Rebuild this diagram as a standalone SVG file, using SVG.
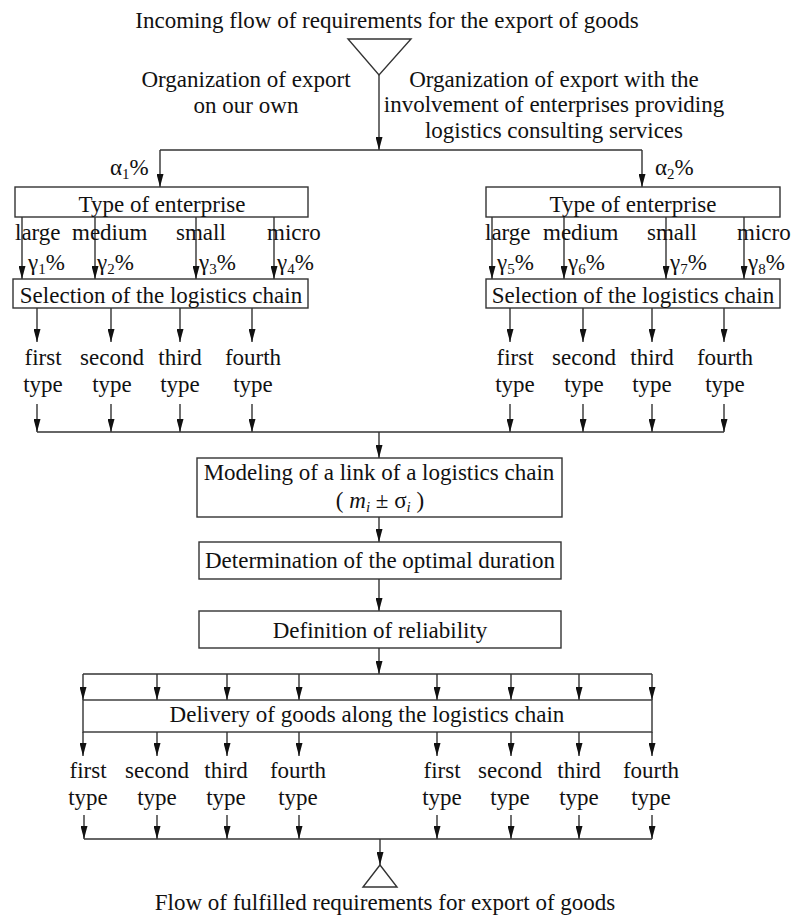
<svg xmlns="http://www.w3.org/2000/svg" width="803" height="918" viewBox="0 0 803 918">
<style>
text{font-family:"Liberation Serif","Times New Roman",serif;font-size:23px;fill:#111}
.m{text-anchor:middle}
.box{fill:#fff;stroke:#333;stroke-width:1.4}
.ln{fill:none;stroke:#333;stroke-width:1.4}
.ar{fill:none;stroke:#333;stroke-width:1.4;marker-end:url(#ah)}
.sub{font-size:15px}
.it{font-style:italic}
</style>
<defs>
<marker id="ah" viewBox="0 0 13 7" refX="13" refY="3.5" markerWidth="13" markerHeight="7" markerUnits="userSpaceOnUse" orient="auto">
<path d="M0,0 L13,3.5 L0,7 z" fill="#111"/>
</marker>
</defs>
<rect width="803" height="918" fill="#fff"/>

<g id="connectors">
<path class="ar" d="M379,75 V150"/>
<path class="ln" d="M160,150 H642"/>
<path class="ar" d="M160,150 V187"/>
<path class="ar" d="M642,150 V187"/>
<path class="ar" d="M22,217 V279"/>
<path class="ar" d="M95,217 V279"/>
<path class="ar" d="M196,217 V279"/>
<path class="ar" d="M274,217 V279"/>
<path class="ar" d="M492,217 V279"/>
<path class="ar" d="M564,217 V279"/>
<path class="ar" d="M666,217 V279"/>
<path class="ar" d="M744,217 V279"/>
<path class="ar" d="M37,308 V342"/>
<path class="ar" d="M111,308 V342"/>
<path class="ar" d="M180,308 V342"/>
<path class="ar" d="M252,308 V342"/>
<path class="ar" d="M510,308 V342"/>
<path class="ar" d="M583,308 V342"/>
<path class="ar" d="M652,308 V342"/>
<path class="ar" d="M724,308 V342"/>
<path class="ar" d="M37,404 V432"/>
<path class="ar" d="M111,404 V432"/>
<path class="ar" d="M180,404 V432"/>
<path class="ar" d="M252,404 V432"/>
<path class="ar" d="M510,404 V432"/>
<path class="ar" d="M583,404 V432"/>
<path class="ar" d="M652,404 V432"/>
<path class="ar" d="M724,404 V432"/>
<path class="ln" d="M37,432 H724"/>
<path class="ar" d="M379,432 V458"/>
<path class="ar" d="M379,517 V542"/>
<path class="ar" d="M379,579 V611"/>
<path class="ar" d="M379,648 V674"/>
<path class="ln" d="M83,674 H652"/>
<path class="ar" d="M83,674 V700"/>
<path class="ar" d="M157,674 V700"/>
<path class="ar" d="M227,674 V700"/>
<path class="ar" d="M299,674 V700"/>
<path class="ar" d="M437,674 V700"/>
<path class="ar" d="M511,674 V700"/>
<path class="ar" d="M579,674 V700"/>
<path class="ar" d="M652,674 V700"/>
<path class="ar" d="M83,732 V756"/>
<path class="ar" d="M157,732 V756"/>
<path class="ar" d="M227,732 V756"/>
<path class="ar" d="M299,732 V756"/>
<path class="ar" d="M437,732 V756"/>
<path class="ar" d="M511,732 V756"/>
<path class="ar" d="M579,732 V756"/>
<path class="ar" d="M652,732 V756"/>
<path class="ar" d="M84,815 V839"/>
<path class="ar" d="M157,815 V839"/>
<path class="ar" d="M227,815 V839"/>
<path class="ar" d="M299,815 V839"/>
<path class="ar" d="M437,815 V839"/>
<path class="ar" d="M511,815 V839"/>
<path class="ar" d="M579,815 V839"/>
<path class="ar" d="M652,815 V839"/>
<path class="ln" d="M84,839 H652"/>
<path class="ar" d="M380,839 V865"/>
</g>

<g id="source">
<text class="m" x="387" y="28">Incoming flow of requirements for the export of goods</text>
<path class="ln" d="M348,39 H411 L379,75 Z"/>
</g>

<g id="branch-labels">
<text class="m" x="246" y="87">Organization of export</text>
<text class="m" x="246" y="113">on our own</text>
<text class="m" x="554" y="87">Organization of export with the</text>
<text class="m" x="554" y="112">involvement of enterprises providing</text>
<text class="m" x="554" y="138">logistics consulting services</text>
<text x="110" y="175">α<tspan class="sub" dy="4">1</tspan><tspan dy="-4">%</tspan></text>
<text x="655" y="175">α<tspan class="sub" dy="4">2</tspan><tspan dy="-4">%</tspan></text>
</g>

<g id="type-left">
<rect class="box" x="15" y="187" width="293" height="30"/>
<text class="m" x="162" y="212">Type of enterprise</text>
</g>
<g id="type-right">
<rect class="box" x="486" y="187" width="294" height="30"/>
<text class="m" x="633" y="212">Type of enterprise</text>
</g>

<g id="size-labels">
<text x="15" y="240">large</text>
<text x="72" y="240">medium</text>
<text x="176" y="240">small</text>
<text x="267" y="240">micro</text>
<text x="485" y="240">large</text>
<text x="543" y="240">medium</text>
<text x="647" y="240">small</text>
<text x="737" y="240">micro</text>
<text x="28" y="270">γ<tspan class="sub" dy="4">1</tspan><tspan dy="-4">%</tspan></text>
<text x="97" y="270">γ<tspan class="sub" dy="4">2</tspan><tspan dy="-4">%</tspan></text>
<text x="199" y="270">γ<tspan class="sub" dy="4">3</tspan><tspan dy="-4">%</tspan></text>
<text x="277" y="270">γ<tspan class="sub" dy="4">4</tspan><tspan dy="-4">%</tspan></text>
<text x="497" y="270">γ<tspan class="sub" dy="4">5</tspan><tspan dy="-4">%</tspan></text>
<text x="568" y="270">γ<tspan class="sub" dy="4">6</tspan><tspan dy="-4">%</tspan></text>
<text x="670" y="270">γ<tspan class="sub" dy="4">7</tspan><tspan dy="-4">%</tspan></text>
<text x="748" y="270">γ<tspan class="sub" dy="4">8</tspan><tspan dy="-4">%</tspan></text>
</g>

<g id="selection-left">
<rect class="box" x="13" y="279" width="295" height="29"/>
<text class="m" x="161" y="303">Selection of the logistics chain</text>
</g>
<g id="selection-right">
<rect class="box" x="486" y="279" width="294" height="29"/>
<text class="m" x="633" y="303">Selection of the logistics chain</text>
</g>

<g id="chain-types-top">
<text class="m" x="43" y="365">first</text><text class="m" x="43" y="392">type</text>
<text class="m" x="112" y="365">second</text><text class="m" x="112" y="392">type</text>
<text class="m" x="180" y="365">third</text><text class="m" x="180" y="392">type</text>
<text class="m" x="253" y="365">fourth</text><text class="m" x="253" y="392">type</text>
<text class="m" x="515" y="365">first</text><text class="m" x="515" y="392">type</text>
<text class="m" x="584" y="365">second</text><text class="m" x="584" y="392">type</text>
<text class="m" x="652" y="365">third</text><text class="m" x="652" y="392">type</text>
<text class="m" x="725" y="365">fourth</text><text class="m" x="725" y="392">type</text>
</g>

<g id="modeling">
<rect class="box" x="197" y="458" width="365" height="59"/>
<text class="m" x="379" y="480">Modeling of a link of a logistics chain</text>
<text class="m" x="380" y="508">( <tspan class="it">m</tspan><tspan class="it sub" dy="4">i</tspan><tspan dy="-4"> ± σ</tspan><tspan class="it sub" dy="4">i</tspan><tspan dy="-4"> )</tspan></text>
</g>

<g id="determination">
<rect class="box" x="199" y="542" width="362" height="37"/>
<text class="m" x="380" y="568">Determination of the optimal duration</text>
</g>

<g id="reliability">
<rect class="box" x="199" y="611" width="362" height="37"/>
<text class="m" x="380" y="638">Definition of reliability</text>
</g>

<g id="delivery">
<rect class="box" x="83" y="700" width="569" height="32"/>
<text class="m" x="367" y="722">Delivery of goods along the logistics chain</text>
</g>

<g id="chain-types-bottom">
<text class="m" x="88" y="778">first</text><text class="m" x="88" y="805">type</text>
<text class="m" x="157" y="778">second</text><text class="m" x="157" y="805">type</text>
<text class="m" x="226" y="778">third</text><text class="m" x="226" y="805">type</text>
<text class="m" x="298" y="778">fourth</text><text class="m" x="298" y="805">type</text>
<text class="m" x="442" y="778">first</text><text class="m" x="442" y="805">type</text>
<text class="m" x="510" y="778">second</text><text class="m" x="510" y="805">type</text>
<text class="m" x="579" y="778">third</text><text class="m" x="579" y="805">type</text>
<text class="m" x="651" y="778">fourth</text><text class="m" x="651" y="805">type</text>
</g>

<g id="sink">
<path class="ln" d="M380,865 L397,887 H363 Z"/>
<text class="m" x="385" y="910">Flow of fulfilled requirements for export of goods</text>
</g>
</svg>
